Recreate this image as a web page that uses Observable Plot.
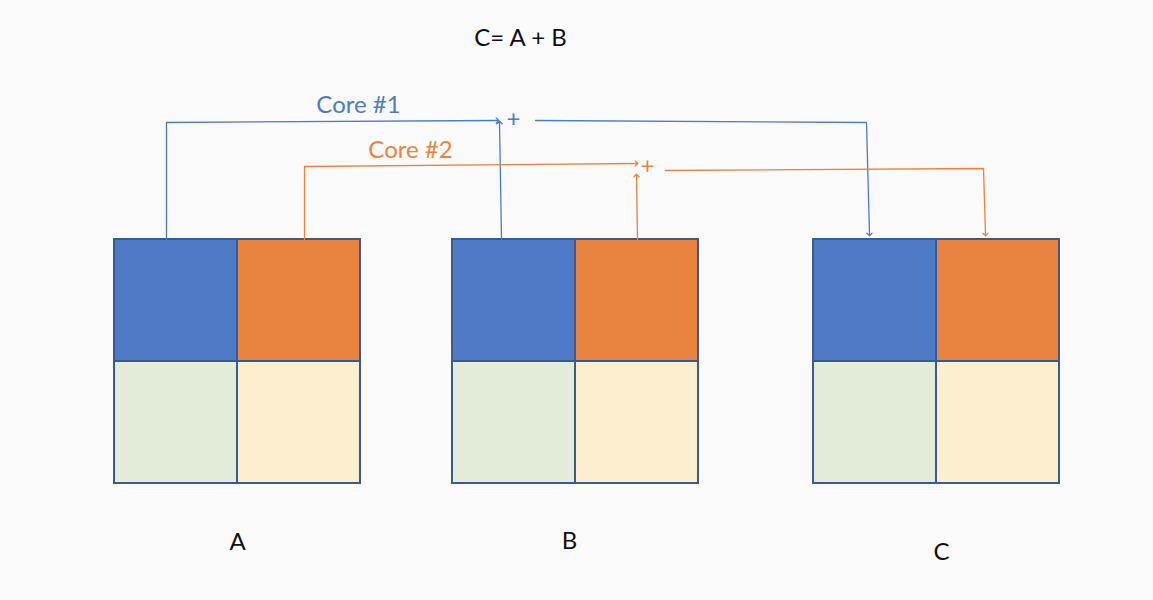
<!DOCTYPE html>
<html><head><meta charset="utf-8">
<script src="https://cdn.jsdelivr.net/npm/d3@7"></script>
<script src="https://cdn.jsdelivr.net/npm/@observablehq/plot@0.6"></script>
<style>body{margin:0;background:#fafafa;font-family:Lato,sans-serif}</style>
</head><body><div id="c"></div>
<script>
const matrixNames = ["A","B","C"];
const matrixX = [114, 452, 813];
const cellColors = ["#4f7ac5","#e8843f","#e2ecd8","#fcefcf"];
const labelPos = [[237,542],[569,541],[941,552]];
const bluePaths = [[[166,239],[166,122],[497,120]], [[501,239],[499,122]], [[535,120],[866,122],[869,234]]];
const orangePaths = [[[304,239],[304,166],[636,163]], [[637,239],[636,175]], [[665,170],[983,168],[985,234]]];
const plusPos = [[513,119,"#4f7ac5"],[647,166,"#e8843f"]];
const coreLabels = [["Core #1",358,105,"#4f7ac5"],["Core #2",410,150,"#e8843f"]];

const cells = [];
matrixX.forEach((x0,m)=>{
  for(let r=0;r<2;r++)for(let c=0;c<2;c++)
    cells.push({x1:x0+c*123,x2:x0+(c+1)*123,y1:239+r*122,y2:239+(r+1)*122,fill:cellColors[r*2+c]});
});
const pts=[];
bluePaths.forEach((p,i)=>p.forEach(([x,y])=>pts.push({x,y,z:"b"+i,c:"#4f7ac5"})));
orangePaths.forEach((p,i)=>p.forEach(([x,y])=>pts.push({x,y,z:"o"+i,c:"#e8843f"})));

const chart = Plot.plot({
  width:1153,height:600,margin:0,
  x:{domain:[0,1153],axis:null},y:{domain:[600,0],axis:null},
  style:{background:"#fafafa",fontFamily:"Lato,sans-serif"},
  marks:[
    Plot.rect(cells,{x1:"x1",x2:"x2",y1:"y1",y2:"y2",fill:"fill",stroke:"#3c5a92",strokeWidth:2}),
    Plot.line(pts,{x:"x",y:"y",z:"z",stroke:"c",strokeWidth:1.3,markerEnd:"arrow"}),
    Plot.text(plusPos,{x:d=>d[0],y:d=>d[1],text:()=>"+",fill:d=>d[2],fontSize:24}),
    Plot.text(coreLabels,{x:d=>d[1],y:d=>d[2],text:d=>d[0],fill:d=>d[3],fontSize:24}),
    Plot.text([["C= A + B",520,38]],{x:d=>d[1],y:d=>d[2],text:d=>d[0],fill:"#111",fontSize:24}),
    Plot.text(matrixNames,{x:(d,i)=>labelPos[i][0],y:(d,i)=>labelPos[i][1],text:d=>d,fill:"#111",fontSize:24})
  ]
});
document.getElementById("c").append(chart);
</script></body></html>
